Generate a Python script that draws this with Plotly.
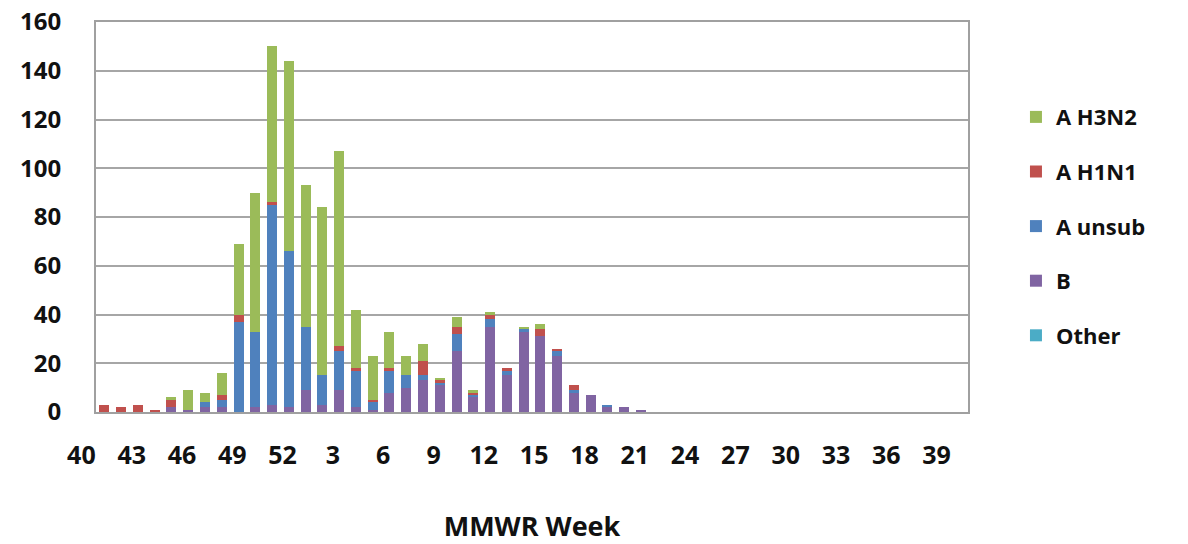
import plotly.graph_objects as go

weeks = [str(w) for w in list(range(40, 53)) + list(range(1, 40))]
tick_labels = [str(w) for w in [40, 43, 46, 49, 52, 3, 6, 9, 12, 15, 18, 21, 24, 27, 30, 33, 36, 39]]

b_vals = [0, 0, 0, 0, 2, 1, 2, 2, 0, 2, 3, 2, 9, 3, 9, 2, 1, 8, 10, 13, 11, 25, 6, 35, 15, 33,
          31, 23, 8, 7, 2, 2, 1] + [0] * 19
a_unsub = [0, 0, 0, 0, 0, 0, 2, 3, 37, 31, 82, 64, 26, 12, 16, 15, 3, 9, 5, 2, 1, 7, 1, 3, 2, 1,
           0, 2, 1, 0, 1, 0, 0] + [0] * 19
a_h1n1 = [3, 2, 3, 1, 3, 0, 0, 2, 3, 0, 1, 0, 0, 0, 2, 1, 1, 1, 0, 6, 1, 3, 1, 2, 1, 0,
          3, 1, 2, 0, 0, 0, 0] + [0] * 19
a_h3n2 = [0, 0, 0, 0, 1, 8, 4, 9, 29, 57, 64, 78, 58, 69, 80, 24, 18, 15, 8, 7, 1, 4, 1, 1, 0, 1,
          2, 0, 0, 0, 0, 0, 0] + [0] * 19
other = [0] * 52

# stacking order bottom -> top; legend rank top -> bottom
series = [
    ("Other", other, "#4BACC6", 5),
    ("B", b_vals, "#8064A2", 4),
    ("A unsub", a_unsub, "#4F81BD", 3),
    ("A H1N1", a_h1n1, "#C0504D", 2),
    ("A H3N2", a_h3n2, "#9BBB59", 1),
]

fig = go.Figure()
for name, vals, col, rank in series:
    fig.add_trace(go.Bar(x=weeks, y=vals, name=name, marker_color=col,
                         marker_line_width=0, legendgroup=name, legendrank=rank))

fig.update_layout(
    width=1188, height=544,
    barmode="stack", bargap=0.4,
    plot_bgcolor="white", paper_bgcolor="white",
    margin=dict(l=96, r=220, t=22, b=132, autoexpand=False),
    font=dict(family="Open Sans", color="#111111"),
    legend=dict(x=1.055, y=0.81, xanchor="left", yanchor="top",
                traceorder="grouped", tracegroupgap=23,
                font=dict(size=22, family="Open Sans", weight="bold")),
    showlegend=True,
)
fig.update_xaxes(
    type="category", categoryorder="array", categoryarray=weeks,
    tickmode="array", tickvals=tick_labels, ticktext=tick_labels,
    tickfont=dict(size=25, family="Open Sans", weight="bold"),
    ticklabelshift=-23, ticklabelstandoff=20,
    showline=True, linecolor="#A0A0A0", linewidth=2, mirror=True,
    showgrid=False, ticks="", automargin=False,
    title=dict(text="MMWR Week", font=dict(size=27, family="Open Sans", weight="bold"),
               standoff=50),
)
fig.update_yaxes(
    range=[0, 160], dtick=20,
    tickfont=dict(size=24, family="Open Sans", weight="bold"),
    ticklabelstandoff=28, automargin=False, ticklabeloverflow="allow",
    showline=True, linecolor="#A0A0A0", linewidth=2, mirror=True,
    showgrid=True, gridcolor="#A6A6A6", gridwidth=1.5,
    zeroline=False, ticks="",
)

fig.write_html("out.html", config={"displayModeBar": False},
               post_script="document.body.style.margin='0';")
